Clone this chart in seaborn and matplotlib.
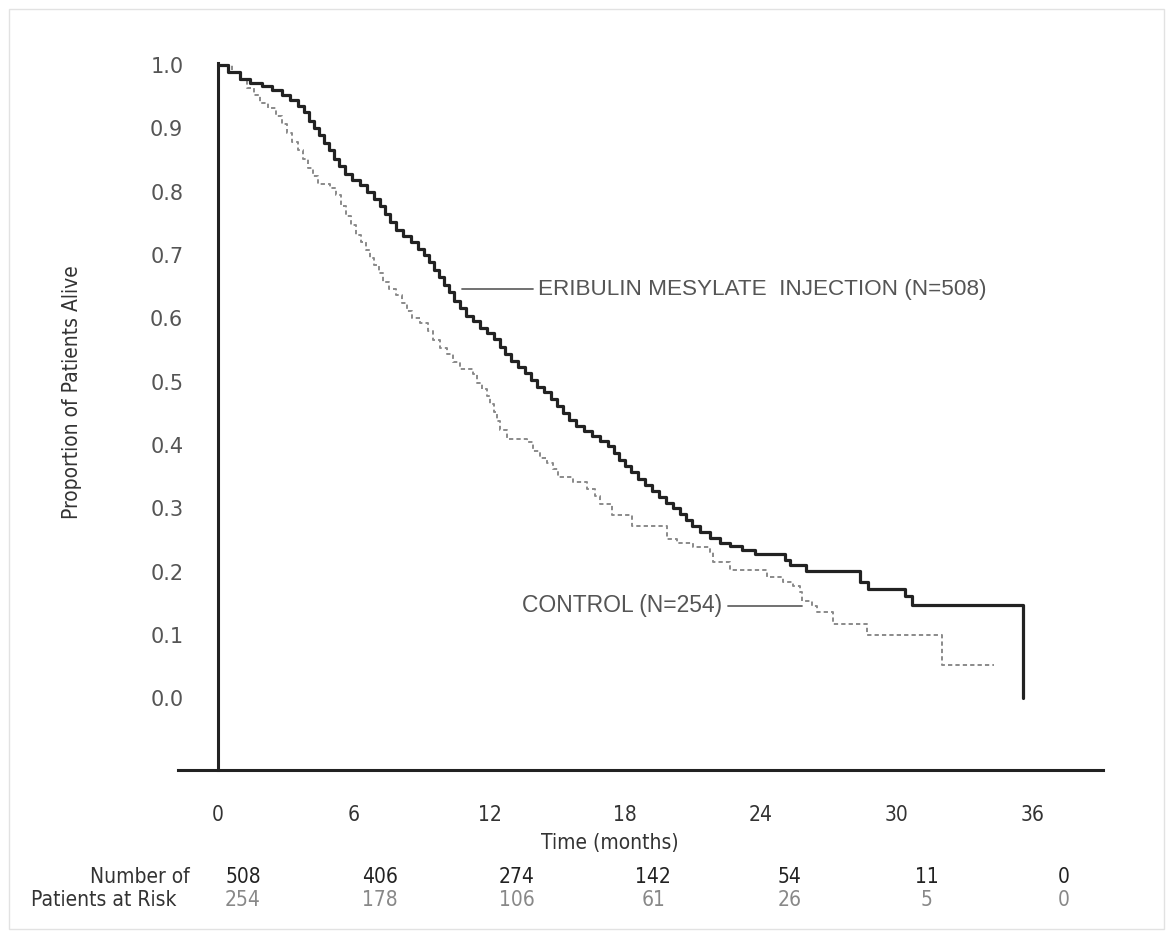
import matplotlib
matplotlib.use("Agg")
import matplotlib.pyplot as plt
from matplotlib import font_manager
from matplotlib.patches import Rectangle
import pandas as pd
import seaborn as sns

# Kaplan-Meier step points (months, proportion alive)
ERI_T = [0.0, 0.44, 0.98, 1.42, 1.94, 2.38, 2.83, 3.18, 3.53, 3.80, 4.03, 4.24, 4.47,
         4.68, 4.91, 5.12, 5.35, 5.62, 5.93, 6.27, 6.58, 6.90, 7.16, 7.38, 7.60, 7.87,
         8.17, 8.53, 8.84, 9.11, 9.32, 9.55, 9.77, 9.99, 10.21, 10.43, 10.70, 10.97,
         11.28, 11.58, 11.89, 12.20, 12.47, 12.68, 12.95, 13.26, 13.58, 13.83, 14.10,
         14.41, 14.72, 14.98, 15.25, 15.52, 15.83, 16.19, 16.53, 16.88, 17.24, 17.51,
         17.73, 17.99, 18.26, 18.57, 18.88, 19.18, 19.49, 19.81, 20.12, 20.43, 20.69,
         20.95, 21.31, 21.75, 22.19, 22.63, 23.17, 23.74, 25.07, 25.28, 25.99, 28.39,
         28.73, 30.37, 30.69, 35.58]
ERI_S = [1.0, 0.989, 0.978, 0.972, 0.966, 0.960, 0.953, 0.945, 0.935, 0.925, 0.912,
         0.900, 0.889, 0.877, 0.866, 0.852, 0.840, 0.828, 0.818, 0.810, 0.800, 0.789,
         0.778, 0.765, 0.752, 0.740, 0.730, 0.720, 0.710, 0.700, 0.689, 0.677, 0.665,
         0.653, 0.641, 0.628, 0.616, 0.604, 0.595, 0.585, 0.577, 0.567, 0.555, 0.543,
         0.533, 0.523, 0.513, 0.503, 0.492, 0.483, 0.473, 0.462, 0.450, 0.440, 0.430,
         0.422, 0.414, 0.406, 0.398, 0.388, 0.377, 0.367, 0.357, 0.347, 0.337, 0.327,
         0.318, 0.309, 0.300, 0.291, 0.281, 0.272, 0.263, 0.254, 0.246, 0.240, 0.234,
         0.228, 0.218, 0.210, 0.201, 0.184, 0.173, 0.161, 0.148, 0.0]

CTL_T = [0.0, 0.62, 0.98, 1.28, 1.59, 1.86, 2.21, 2.57, 2.83, 3.05, 3.28, 3.53, 3.76,
         3.97, 4.20, 4.42, 4.95, 5.22, 5.43, 5.66, 5.88, 6.10, 6.33, 6.54, 6.72, 6.90,
         7.12, 7.29, 7.56, 7.87, 8.13, 8.36, 8.58, 8.93, 9.28, 9.51, 9.82, 10.13, 10.39,
         10.70, 11.28, 11.45, 11.67, 11.89, 12.03, 12.20, 12.33, 12.47, 12.78, 13.66,
         13.93, 14.23, 14.54, 14.81, 15.03, 15.69, 16.31, 16.67, 16.88, 17.42, 18.30,
         19.85, 20.29, 21.00, 21.75, 21.88, 22.63, 24.27, 24.98, 25.42, 25.73, 25.82,
         26.26, 26.49, 27.18, 28.69, 32.01, 34.30]
CTL_S = [1.0, 0.988, 0.976, 0.964, 0.952, 0.940, 0.932, 0.920, 0.906, 0.892, 0.879,
         0.866, 0.852, 0.838, 0.825, 0.812, 0.806, 0.794, 0.778, 0.762, 0.748, 0.732,
         0.720, 0.708, 0.695, 0.684, 0.672, 0.658, 0.647, 0.636, 0.624, 0.612, 0.601,
         0.593, 0.580, 0.565, 0.553, 0.543, 0.531, 0.520, 0.512, 0.498, 0.488, 0.477,
         0.465, 0.452, 0.438, 0.424, 0.410, 0.405, 0.390, 0.380, 0.372, 0.362, 0.350,
         0.342, 0.331, 0.320, 0.307, 0.290, 0.272, 0.252, 0.246, 0.239, 0.231, 0.216,
         0.202, 0.192, 0.184, 0.178, 0.168, 0.154, 0.146, 0.136, 0.117, 0.100, 0.053,
         0.053]

X_TICKS = [0, 6, 12, 18, 24, 30, 36]
Y_TICKS = [0.0, 0.1, 0.2, 0.3, 0.4, 0.5, 0.6, 0.7, 0.8, 0.9, 1.0]
RISK_ERI = [508, 406, 274, 142, 54, 11, 0]
RISK_CTL = [254, 178, 106, 61, 26, 5, 0]

sns.set_theme(style="white")
installed = {f.name for f in font_manager.fontManager.ttflist}
NARROW = "Liberation Sans Narrow" if "Liberation Sans Narrow" in installed else "DejaVu Sans"
plt.rcParams["font.family"] = ["DejaVu Sans"]
narrow = dict(family=NARROW, fontstretch="condensed")

fig = plt.figure(figsize=(11.73, 9.35), dpi=100)
ax = fig.add_axes([178 / 1173, 165 / 935, 925 / 1173, 707 / 935])

eri = pd.DataFrame({"t": ERI_T, "s": ERI_S})
ctl = pd.DataFrame({"t": CTL_T, "s": CTL_S})
sns.lineplot(data=ctl, x="t", y="s", ax=ax, estimator=None, drawstyle="steps-post",
             color="#8a8a8a", linewidth=1.4, linestyle=(0, (2.2, 1.6)))
sns.lineplot(data=eri, x="t", y="s", ax=ax, estimator=None, drawstyle="steps-post",
             color="#222222", linewidth=2.3)

ax.set_xlim(-1.77, 39.12)
ax.set_ylim(-0.113, 1.003)
ax.spines["top"].set_visible(False)
ax.spines["right"].set_visible(False)
ax.spines["left"].set_position(("data", 0))
for sp in ("left", "bottom"):
    ax.spines[sp].set_linewidth(2.2)
    ax.spines[sp].set_color("#222222")

ax.set_xticks(X_TICKS)
ax.set_xticklabels([str(x) for x in X_TICKS], fontsize=15, color="#333333", **narrow)
ax.set_yticks(Y_TICKS)
ax.set_yticklabels([f"{y:.1f}" for y in Y_TICKS], fontsize=15, color="#555555")
ax.tick_params(axis="y", direction="out", length=19, width=2.2, color="#222222", pad=6)
ax.tick_params(axis="x", direction="out", length=16.5, width=2.2, color="#222222", pad=9)
ax.set_xlabel("")
ax.set_ylabel("")

fig.text(72 / 1173, 1 - 392 / 935, "Proportion of Patients Alive", rotation=90,
         ha="center", va="center", fontsize=15, color="#333333", **narrow)
fig.text(610 / 1173, 1 - 843 / 935, "Time (months)", ha="center", va="center",
         fontsize=15, color="#333333", **narrow)

# curve labels with leader lines
ax.plot([10.79, 13.93], [0.646, 0.646], color="#666666", linewidth=1.3)
ax.text(14.15, 0.646, "ERIBULIN MESYLATE  INJECTION (N=508)", ha="left", va="center",
        fontsize=16.2, color="#555555", family="Liberation Sans")
ax.plot([22.55, 25.82], [0.146, 0.146], color="#666666", linewidth=1.3)
ax.text(22.28, 0.146, "CONTROL (N=254)", ha="right", va="center",
        fontsize=16.5, color="#555555", family="Liberation Sans")

# number at risk table
fig.text(190 / 1173, 1 - 877 / 935, "Number of", ha="right", va="center",
         fontsize=15, color="#333333", **narrow)
fig.text(177 / 1173, 1 - 900 / 935, "Patients at Risk", ha="right", va="center",
         fontsize=15, color="#333333", **narrow)
trans = ax.get_xaxis_transform()
for t, n1, n2 in zip(X_TICKS, RISK_ERI, RISK_CTL):
    xr = 1.105 + 1.0072 * t
    ax.text(xr, -0.151, str(n1), transform=trans, ha="center", va="center",
            fontsize=15, color="#222222", clip_on=False, **narrow)
    ax.text(xr, -0.184, str(n2), transform=trans, ha="center", va="center",
            fontsize=15, color="#888888", clip_on=False, **narrow)

fig.patches.append(Rectangle((9 / 1173, 6 / 935), 1155 / 1173, 920 / 935,
                             transform=fig.transFigure, fill=False,
                             edgecolor="#e2e2e2", linewidth=1.0))

fig.savefig("out.png", dpi=100)
